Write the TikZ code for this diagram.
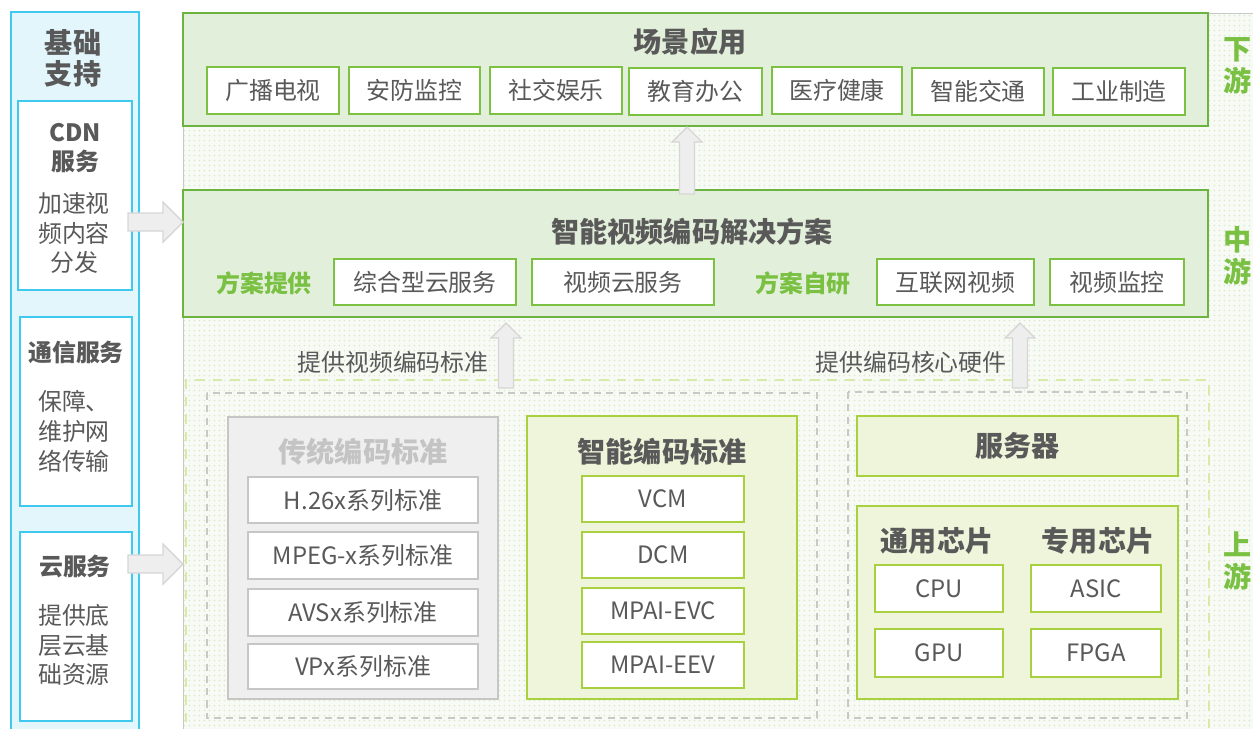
\documentclass[tikz,border=0pt]{standalone}
\usepackage{fontspec}
\setmainfont{Noto Sans CJK SC}
\usetikzlibrary{patterns.meta}

\definecolor{txt}{HTML}{595959}
\definecolor{gborder}{HTML}{6DB33F}
\definecolor{gfill}{HTML}{E2EFDA}
\definecolor{sborder}{HTML}{7DC142}
\definecolor{yfill}{HTML}{EFF5DA}
\definecolor{yborder}{HTML}{A9D13F}
\definecolor{grfill}{HTML}{EFEFEF}
\definecolor{grborder}{HTML}{C6C6C6}
\definecolor{grtitle}{HTML}{C4C4C4}
\definecolor{cfill}{HTML}{E2F6FB}
\definecolor{cborder}{HTML}{3FC9EE}
\definecolor{lbl}{HTML}{7AC143}
\definecolor{dashg}{HTML}{D8EAA8}
\definecolor{arrf}{HTML}{EEEEEE}
\definecolor{arrd}{HTML}{D6D6D6}
\definecolor{dotc}{HTML}{DAEACB}
\definecolor{bgf}{HTML}{F8FBF5}
\definecolor{frame}{HTML}{C8C8C8}

\tikzdeclarepattern{
  name=gdots, type=uncolored,
  bounding box={(0pt,0pt) and (2.8pt,2.8pt)},
  tile size={(2.8pt,2.8pt)},
  code={\fill (1.4pt,1.4pt) circle (0.55pt);}
}

\newcommand\mybox[7]{%
  \pgfmathsetmacro\cx{(#2+#4)/2}\pgfmathsetmacro\cy{(#3+#5)/2}%
  \pgfmathsetmacro\ww{(#4-#2)*0.02}\pgfmathsetmacro\hh{(#5-#3)*0.02}%
  \node[#6, minimum width=\ww cm, minimum height=\hh cm, inner sep=0pt] (#1) at (\cx,\cy) {#7};}

\newcommand\blkup[2]{% base coordinate, length
  \path[barrow] (#1) ++(-7.5,0) -- ++(0,{-(#2-15)}) -- ++(-7.5,0) -- ++(15,-15)
    -- ++(15,15) -- ++(-7.5,0) -- ++(0,{#2-15}) -- cycle;}
\newcommand\blkright[2]{% base coordinate, length
  \path[barrow] (#1) ++(0,-9) -- ++({#2-20},0) -- ++(0,-11) -- ++(20,20)
    -- ++(-20,20) -- ++(0,-11) -- ++({-(#2-20)},0) -- cycle;}

\begin{document}
\begin{tikzpicture}[x=0.02cm,y=-0.02cm,
  box/.style={draw=gborder, fill=gfill, line width=1.4pt},
  sbox/.style={draw=sborder, fill=white, line width=1.3pt, text=txt, font=\fontsize{13.6}{16}\selectfont},
  ybox/.style={draw=yborder, fill=yfill, line width=1.3pt},
  ysub/.style={draw=yborder, fill=white, line width=1.3pt, text=txt, font=\fontsize{13.6}{16}\selectfont},
  gbox/.style={draw=grborder, fill=grfill, line width=1.3pt},
  gsub/.style={draw=grborder, fill=white, line width=1.3pt, text=txt, font=\fontsize{13.6}{16}\selectfont},
  cpanel/.style={draw=cborder, fill=cfill, line width=1.3pt},
  csub/.style={draw=cborder, fill=white, line width=1.3pt},
  title/.style={text=txt, font=\fontsize{16}{18}\selectfont\bfseries},
  body/.style={text=txt, font=\fontsize{13.6}{17}\selectfont, align=center},
  bbody/.style={text=txt, font=\fontsize{13.6}{16.4}\selectfont\bfseries, align=center},
  glabel/.style={text=lbl, font=\fontsize{13.6}{16}\selectfont\bfseries},
  stream/.style={text=lbl, font=\fontsize{16}{18}\selectfont\bfseries, align=center},
  barrow/.style={fill=arrf, draw=arrd, line width=0.8pt},
  updash/.style={draw=dashg, line width=1.5pt, dash pattern=on 5.5pt off 4.5pt},
  grdash/.style={draw=frame, line width=0.6pt, dash pattern=on 4pt off 3pt}
]
\useasboundingbox (0,0) rectangle (1253,728);
\fill[white] (0,0) rectangle (1253,728);

% main dotted background
\fill[bgf] (183,13) rectangle (1253,740);
\fill[pattern=gdots, pattern color=dotc] (183,13) rectangle (1253,740);
\draw[frame, line width=0.5pt] (183,740) -- (183,13) -- (1253,13);

% upstream dashed regions
\draw[updash] (186,740) -- (186,380) -- (1209,380) -- (1209,740);
\draw[grdash] (207,393) rectangle (817,718);
\draw[grdash] (848,392) rectangle (1187,718);

% downstream
\mybox{down}{183}{13}{1208}{126}{box}{}
\node[title] (downt) at (690,42) {场景应用};
\mybox{d1}{207}{67}{339}{114}{sbox}{广播电视}
\mybox{d2}{349}{67}{480}{114}{sbox}{安防监控}
\mybox{d3}{490}{67}{622}{114}{sbox}{社交娱乐}
\mybox{d4}{629}{68}{762}{115}{sbox}{教育办公}
\mybox{d5}{772}{67}{902}{114}{sbox}{医疗健康}
\mybox{d6}{912}{68}{1044}{115}{sbox}{智能交通}
\mybox{d7}{1053}{68}{1185}{115}{sbox}{工业制造}

% midstream
\mybox{mid}{183}{190}{1208}{317}{box}{}
\node[title] (midt) at (692,232) {智能视频编码解决方案};
\node[glabel] (fa1) at (264,283) {方案提供};
\node[glabel] (fa2) at (803,283) {方案自研};
\mybox{m1}{334}{259}{516}{305}{sbox}{综合型云服务}
\mybox{m2}{532}{259}{714}{305}{sbox}{视频云服务}
\mybox{m3}{877}{259}{1034}{305}{sbox}{互联网视频}
\mybox{m4}{1050}{259}{1184}{305}{sbox}{视频监控}

% upstream labels
\node[body] (lab1) at (393,362) {提供视频编码标准};
\node[body] (lab2) at (911,362) {提供编码核心硬件};

% traditional standards
\mybox{trad}{228}{417}{498}{699}{gbox}{}
\node[text=grtitle, font=\fontsize{16}{18}\selectfont\bfseries] (tradt) at (363,452) {传统编码标准};
\mybox{t1}{248}{477}{478}{523}{gsub}{H.26x系列标准}
\mybox{t2}{248}{532}{478}{579}{gsub}{MPEG-x系列标准}
\mybox{t3}{248}{589}{478}{636}{gsub}{AVSx系列标准}
\mybox{t4}{248}{644}{478}{689}{gsub}{VPx系列标准}

% smart standards
\mybox{smart}{527}{416}{797}{699}{ybox}{}
\node[title] (smartt) at (662,452) {智能编码标准};
\mybox{s1}{582}{476}{744}{522}{ysub}{VCM}
\mybox{s2}{582}{532}{744}{578}{ysub}{DCM}
\mybox{s3}{582}{588}{744}{634}{ysub}{MPAI-EVC}
\mybox{s4}{582}{642}{744}{688}{ysub}{MPAI-EEV}

% hardware
\mybox{server}{857}{416}{1178}{476}{ybox}{\fontsize{16}{18}\selectfont\bfseries\color{txt}服务器}
\mybox{chip}{857}{506}{1178}{699}{ybox}{}
\node[title] (chip1) at (937,541) {通用芯片};
\node[title] (chip2) at (1098,541) {专用芯片};
\mybox{cpu}{875}{565}{1003}{612}{ysub}{CPU}
\mybox{asic}{1031}{565}{1161}{612}{ysub}{ASIC}
\mybox{gpu}{875}{629}{1003}{677}{ysub}{GPU}
\mybox{fpga}{1031}{629}{1161}{677}{ysub}{FPGA}

% stream labels
\node[stream] (xia) at (1238,66) {下\\游};
\node[stream] (zhong) at (1238,256) {中\\游};
\node[stream] (shang) at (1238,561) {上\\游};

% left support panel
\mybox{panel}{11}{12}{139}{740}{cpanel}{}
\node[text=txt, font=\fontsize{16}{17.6}\selectfont\bfseries, align=center] (pt) at (73,58) {基础\\支持};
\mybox{cdn}{18}{101}{132}{290}{csub}{}
\node[bbody] (cdnt) at (75,148) {CDN\\服务};
\node[body] (cdnb) at (74,233) {加速视\\频内容\\分发};
\mybox{comm}{20}{317}{132}{506}{csub}{}
\node[bbody] (commt) at (76,352) {通信服务};
\node[body] (commb) at (74,431) {保障、\\维护网\\络传输};
\mybox{cloud}{20}{532}{132}{721}{csub}{}
\node[bbody] (cloudt) at (75,566) {云服务};
\node[body] (cloudb) at (74,645) {提供底\\层云基\\础资源};

% block arrows (bases at named points just below/left of the boxes they point to)
\coordinate (a1) at (687,194);
\blkup{a1}{67}
\coordinate (a2) at (506,388);
\blkup{a2}{65}
\coordinate (a3) at (1020,388);
\blkup{a3}{65}
\coordinate (a4) at (128,222);
\blkright{a4}{55}
\coordinate (a5) at (128,564);
\blkright{a5}{55}
\end{tikzpicture}
\end{document}
